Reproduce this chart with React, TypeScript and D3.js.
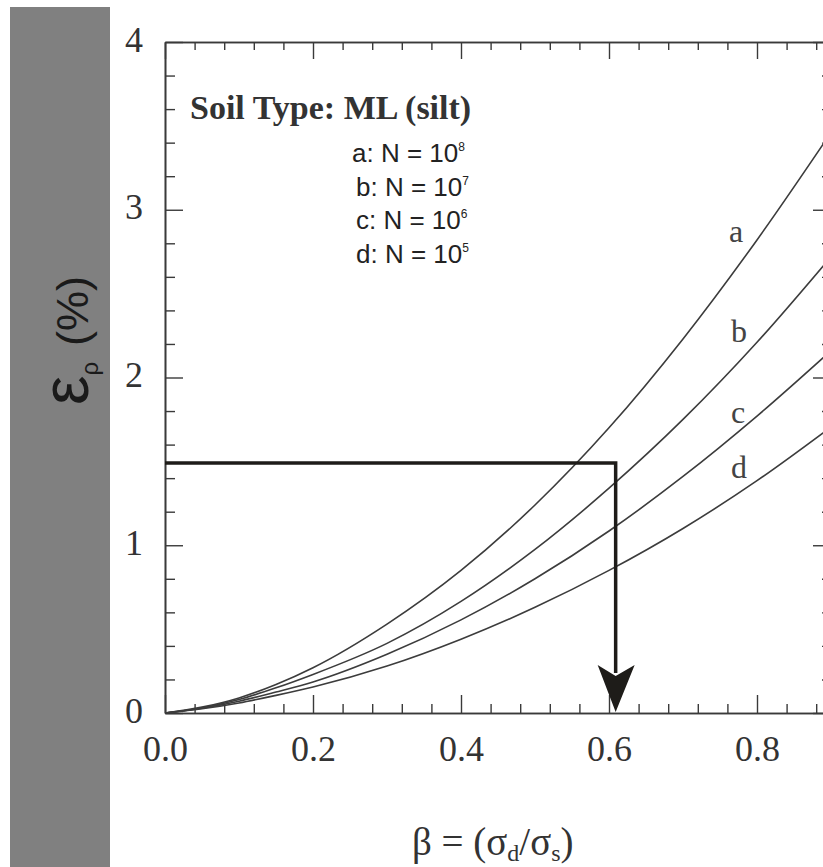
import React, { useEffect, useRef } from "react";
import * as d3 from "d3";

// beta = sigma_d / sigma_s
const betaValues = [0, 0.05, 0.1, 0.15, 0.2, 0.3, 0.4, 0.5, 0.6, 0.7, 0.8, 0.9];
// permanent strain (%) for each number of cycles
const strainA = [0, 0.035, 0.09, 0.17, 0.27, 0.53, 0.85, 1.24, 1.7, 2.23, 2.82, 3.46];
const strainB = [0, 0.03, 0.08, 0.15, 0.23, 0.415, 0.665, 0.975, 1.34, 1.75, 2.21, 2.72];
const strainC = [0, 0.028, 0.07, 0.125, 0.185, 0.35, 0.555, 0.8, 1.085, 1.41, 1.77, 2.16];
const strainD = [0, 0.025, 0.06, 0.105, 0.155, 0.28, 0.44, 0.63, 0.85, 1.1, 1.385, 1.705];

const curveNames = ["a", "b", "c", "d"];
const curveLabelBeta = [0.762, 0.765, 0.765, 0.765];
const curveLabelStrain = [2.81, 2.21, 1.73, 1.4];

const legendTitle = "Soil Type: ML (silt)";
const legendLabels = ["a: N = 10", "b: N = 10", "c: N = 10", "d: N = 10"];
const legendExponents = ["8", "7", "6", "5"];

const xTicks = [0, 0.2, 0.4, 0.6, 0.8];
const yTicks = [0, 1, 2, 3, 4];

// design example
const designBeta = 0.609;
const designStrain = 1.49;

const W = 823;
const H = 867;

export default function App() {
  const svgRef = useRef<SVGSVGElement>(null);

  useEffect(() => {
    const svg = d3.select(svgRef.current);
    svg.selectAll("*").remove();

    const x = d3.scaleLinear().domain([0, 0.9]).range([165, 831]);
    const y = d3.scaleLinear().domain([0, 4]).range([713, 42]);
    const left = x(0);
    const right = x(0.9);
    const top = y(4);
    const bottom = y(0);

    const xMinor = d3
      .range(0, 23)
      .map((i) => i * 0.04)
      .filter((v) => Math.abs(v / 0.2 - Math.round(v / 0.2)) > 1e-6);
    const yMinor = d3
      .range(0, 21)
      .map((i) => i * 0.2)
      .filter((v) => Math.abs(v - Math.round(v)) > 1e-6);

    // gray band
    svg
      .append("rect")
      .attr("x", 10)
      .attr("y", 7)
      .attr("width", 100)
      .attr("height", H - 7)
      .attr("fill", "#808080");

    const axisColor = "#3a3a3a";
    const styleAxis = (g: any) => {
      g.selectAll(".domain").attr("stroke", axisColor).attr("stroke-width", 1.6);
      g.selectAll(".tick line").attr("stroke", axisColor).attr("stroke-width", 1.4);
      g.selectAll(".tick text")
        .attr("fill", "#333")
        .style("font-family", "'Liberation Serif', 'Times New Roman', serif")
        .style("font-size", "36px");
    };

    // bottom
    svg
      .append("g")
      .attr("transform", `translate(0,${bottom})`)
      .call(d3.axisBottom(x).tickValues(xTicks).tickSizeInner(-18).tickSizeOuter(0).tickPadding(22).tickFormat(d3.format(".1f")))
      .call(styleAxis);
    svg
      .append("g")
      .attr("transform", `translate(0,${bottom})`)
      .call(d3.axisBottom(x).tickValues(xMinor).tickSizeInner(-9).tickSizeOuter(0).tickFormat(() => ""))
      .call(styleAxis);
    // top
    svg
      .append("g")
      .attr("transform", `translate(0,${top})`)
      .call(d3.axisTop(x).tickValues(xTicks).tickSizeInner(-17).tickSizeOuter(0).tickFormat(() => ""))
      .call(styleAxis);
    svg
      .append("g")
      .attr("transform", `translate(0,${top})`)
      .call(d3.axisTop(x).tickValues(xMinor).tickSizeInner(-8).tickSizeOuter(0).tickFormat(() => ""))
      .call(styleAxis);
    // left
    svg
      .append("g")
      .attr("transform", `translate(${left},0)`)
      .call(d3.axisLeft(y).tickValues(yTicks).tickSizeInner(-18).tickSizeOuter(0).tickPadding(22).tickFormat(d3.format("d")))
      .call(styleAxis)
      .call((g: any) => g.selectAll(".tick text").attr("dy", "0.25em"));
    svg
      .append("g")
      .attr("transform", `translate(${left},0)`)
      .call(d3.axisLeft(y).tickValues(yMinor).tickSizeInner(-10).tickSizeOuter(0).tickFormat(() => ""))
      .call(styleAxis);
    // right
    svg
      .append("g")
      .attr("transform", `translate(${right},0)`)
      .call(d3.axisRight(y).tickValues(yTicks).tickSizeInner(-18).tickSizeOuter(0).tickFormat(() => ""))
      .call(styleAxis);
    svg
      .append("g")
      .attr("transform", `translate(${right},0)`)
      .call(d3.axisRight(y).tickValues(yMinor).tickSizeInner(-9).tickSizeOuter(0).tickFormat(() => ""))
      .call(styleAxis);

    // curves
    svg
      .append("clipPath")
      .attr("id", "plot-clip")
      .append("rect")
      .attr("x", left)
      .attr("y", top)
      .attr("width", right - left)
      .attr("height", bottom - top);

    const series = [strainA, strainB, strainC, strainD];
    const line = d3
      .line<number>()
      .x((_, i) => x(betaValues[i]))
      .y((d) => y(d))
      .curve(d3.curveMonotoneX);

    svg
      .append("g")
      .attr("clip-path", "url(#plot-clip)")
      .selectAll("path")
      .data(series)
      .join("path")
      .attr("d", (d) => line(d))
      .attr("fill", "none")
      .attr("stroke", "#3c3c3c")
      .attr("stroke-width", 1.6);

    svg
      .append("g")
      .selectAll("text")
      .data(curveNames)
      .join("text")
      .attr("x", (_, i) => x(curveLabelBeta[i]))
      .attr("y", (_, i) => y(curveLabelStrain[i]))
      .attr("fill", "#444")
      .style("font-family", "'Liberation Serif', 'Times New Roman', serif")
      .style("font-size", "32px")
      .text((d) => d);

    // design arrow
    const xb = x(designBeta);
    const yb = y(designStrain);
    svg
      .append("path")
      .attr("d", `M${left},${yb}H${xb}V${bottom - 40}`)
      .attr("fill", "none")
      .attr("stroke", "#1e1c19")
      .attr("stroke-width", 3.5);
    svg
      .append("path")
      .attr(
        "d",
        `M${xb},${bottom - 1}L${xb - 18},${bottom - 48}L${xb},${bottom - 37}L${xb + 19},${bottom - 48}Z`
      )
      .attr("fill", "#1e1c19");

    // legend
    svg
      .append("text")
      .attr("x", 190)
      .attr("y", 119)
      .attr("fill", "#333")
      .style("font-family", "'Liberation Serif', 'Times New Roman', serif")
      .style("font-size", "34px")
      .style("font-weight", "bold")
      .text(legendTitle);

    const legend = svg
      .append("g")
      .selectAll("text")
      .data(legendLabels)
      .join("text")
      .attr("x", (_, i) => (i === 0 ? 352 : 356))
      .attr("y", (_, i) => 162 + i * 33.5)
      .attr("fill", "#222")
      .style("font-family", "'Liberation Sans', Arial, sans-serif")
      .style("font-size", "26px");
    legend.append("tspan").text((d) => d);
    legend
      .append("tspan")
      .attr("dx", 0)
      .attr("dy", -11)
      .style("font-size", "12px")
      .text((_, i) => legendExponents[i]);

    // y label
    const yl = svg
      .append("text")
      .attr("transform", "translate(88,405) rotate(-90)")
      .attr("fill", "#1a1a1a")
      .style("font-family", "'Liberation Sans', Arial, sans-serif");
    yl.append("tspan").style("font-size", "66px").text("ε");
    yl.append("tspan").attr("dy", 10).style("font-size", "24px").text("ρ");
    yl.append("tspan").attr("dy", -10).attr("dx", 16).style("font-size", "45px").text("(%)");

    // x label
    const xl = svg
      .append("text")
      .attr("x", 412)
      .attr("y", 855)
      .attr("fill", "#333")
      .style("font-family", "'Liberation Serif', 'Times New Roman', serif")
      .style("font-size", "39px");
    xl.append("tspan").text("β = (σ");
    xl.append("tspan").attr("dy", 6).style("font-size", "24px").text("d");
    xl.append("tspan").attr("dy", -6).text("/σ");
    xl.append("tspan").attr("dy", 6).style("font-size", "24px").text("s");
    xl.append("tspan").attr("dy", -6).text(")");
  }, []);

  return (
    <svg
      ref={svgRef}
      width={W}
      height={H}
      style={{ position: "absolute", left: 0, top: 0, background: "#fff" }}
    />
  );
}
